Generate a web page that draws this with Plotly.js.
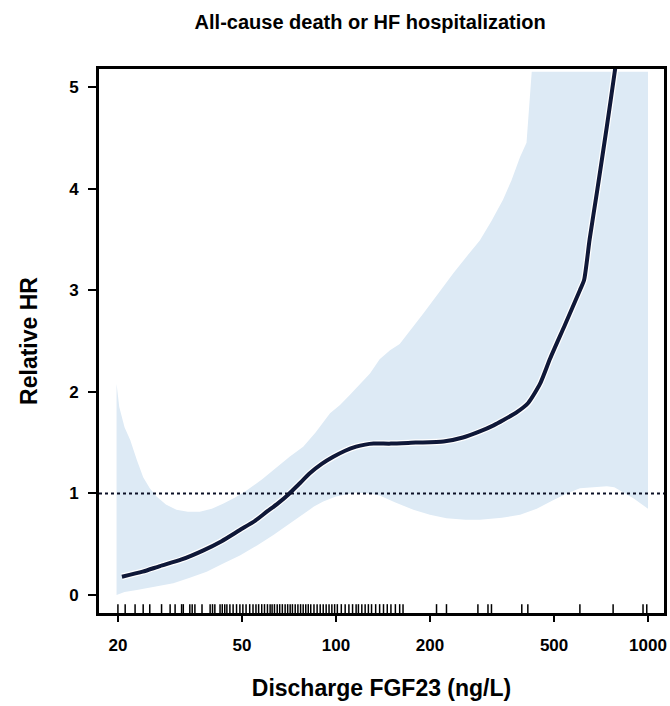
<!DOCTYPE html>
<html>
<head>
<meta charset="utf-8">
<script src="https://cdn.plot.ly/plotly-3.0.1.min.js"></script>
<style>html,body{margin:0;padding:0;background:#fff;}#chart{width:670px;height:706px;}</style>
</head>
<body>
<div id="chart"></div>
<script>
// Estimated spline curve (Discharge FGF23 vs relative HR)
const curveX = [20.6, 24, 27.3, 32, 37.6, 43, 49.2, 55, 60, 65, 70.4, 76, 82.6, 90, 98, 107, 116, 124, 132, 150, 180, 221, 255, 289, 320, 343, 380, 413, 451, 486, 542, 605, 624, 650, 685, 738, 784, 800];
const curveY = [0.18, 0.23, 0.285, 0.35, 0.44, 0.53, 0.64, 0.73, 0.82, 0.90, 0.99, 1.09, 1.20, 1.29, 1.36, 1.42, 1.46, 1.48, 1.49, 1.49, 1.50, 1.51, 1.55, 1.61, 1.67, 1.72, 1.80, 1.89, 2.08, 2.33, 2.66, 3.00, 3.10, 3.50, 3.95, 4.61, 5.17, 5.40];

// 95% confidence band, upper bound
const upperX = [19.8, 20.2, 21, 21.9, 23, 24.1, 25.3, 26.6, 28.5, 30.8, 33.5, 36.6, 40, 43.6, 47.5, 51.8, 58, 64.6, 71, 78.5, 86, 95.7, 103, 110.9, 119, 128.5, 138, 149, 160, 175, 190.5, 213, 238, 262, 289, 315, 343, 365, 389, 408, 415, 424, 500, 700, 1000];
const upperY = [2.08, 1.85, 1.65, 1.525, 1.33, 1.16, 1.05, 0.97, 0.89, 0.84, 0.82, 0.82, 0.85, 0.90, 0.96, 1.03, 1.14, 1.26, 1.36, 1.46, 1.60, 1.79, 1.87, 1.97, 2.07, 2.18, 2.32, 2.41, 2.47, 2.62, 2.77, 2.97, 3.17, 3.33, 3.49, 3.68, 3.89, 4.08, 4.31, 4.45, 4.80, 5.15, 5.15, 5.15, 5.15];

// 95% confidence band, lower bound
const lowerX = [19.8, 21, 23, 26, 30.1, 34, 38.5, 43.5, 49.2, 56, 63, 70, 78.5, 85, 91, 100, 116, 127, 138, 155, 177, 200, 226, 260, 289, 340, 389, 440, 498, 550, 605, 660, 700, 738, 780, 813, 900, 1000];
const lowerY = [0.00, 0.03, 0.05, 0.08, 0.115, 0.17, 0.23, 0.31, 0.39, 0.49, 0.59, 0.69, 0.80, 0.87, 0.92, 0.97, 1.01, 1.00, 0.98, 0.91, 0.84, 0.79, 0.755, 0.74, 0.74, 0.76, 0.79, 0.85, 0.935, 1.00, 1.05, 1.06, 1.065, 1.07, 1.06, 1.03, 0.95, 0.85];

// Rug of observed FGF23 values
const rugVals = [20, 21.1, 22.7, 24.1, 25.3, 27.6, 29.4, 30.5, 32.0, 32.4, 34.0, 34.6, 35.3, 37.2, 39.5, 40.2, 40.9, 42.5, 43.2, 44.0, 44.7, 45.7, 46.8, 48.0, 49.2, 50.3, 51.5, 52.9, 54.2, 55.4, 56.5, 57.8, 59.0, 60.3, 61.5, 62.4, 63.5, 64.8, 66.0, 67.3, 68.7, 70.0, 71.3, 72.5, 74, 75.5, 77, 78.5, 80, 81.5, 83, 85, 87, 89, 91, 93, 95, 97, 99, 101, 104, 107, 110, 113, 116, 118, 121, 124, 127, 130, 134, 138, 142, 146, 150, 155, 160, 164, 210, 226, 285, 307, 315, 394, 412, 605, 773, 964, 991];

const xTicks = [20, 50, 100, 200, 500, 1000];
const xTickText = ['20', '50', '100', '200', '500', '1000'];
const yTicks = [0, 1, 2, 3, 4, 5];
const refHR = 1;

const bandColor = 'rgb(221,234,245)';
const lineColor = '#0f1838';
const font = {family: 'Arial, "Liberation Sans", sans-serif', color: '#000', weight: 'bold'};

const traces = [
  {x: lowerX, y: lowerY, mode: 'lines', line: {width: 0, color: bandColor}, hoverinfo: 'skip', showlegend: false},
  {x: upperX, y: upperY, mode: 'lines', line: {width: 0, color: bandColor}, fill: 'tonexty', fillcolor: bandColor, hoverinfo: 'skip', showlegend: false},
  {x: curveX, y: curveY, mode: 'lines', line: {width: 6.5, color: '#ffffff', shape: 'spline', smoothing: 0.6}, showlegend: false},
  {x: curveX, y: curveY, mode: 'lines', line: {width: 4, color: lineColor, shape: 'spline', smoothing: 0.6}, showlegend: false},
  {x: rugVals, y: rugVals.map(() => -0.145), mode: 'markers', cliponaxis: false,
   marker: {symbol: 'line-ns-open', size: 8, color: '#000', line: {width: 1.5, color: '#000'}}, showlegend: false}
];

const layout = {
  width: 670, height: 706,
  margin: {l: 99, r: 6, t: 69, b: 93},
  paper_bgcolor: '#fff', plot_bgcolor: '#fff',
  title: {text: 'All-cause death or HF hospitalization', x: 0.48, xref: 'paper', y: 0.969, yref: 'container', yanchor: 'middle',
          font: Object.assign({}, font, {size: 20})},
  xaxis: {
    type: 'log', range: [1.2404, 3.0513],
    tickvals: xTicks, ticktext: xTickText,
    ticks: 'outside', ticklen: 6, tickwidth: 2, tickcolor: '#000',
    ticklabelstandoff: 9,
    showline: true, linewidth: 3, linecolor: '#000', mirror: true,
    showgrid: false, zeroline: false,
    tickfont: Object.assign({}, font, {size: 17}),
    title: {text: 'Discharge FGF23 (ng/L)', standoff: 26, font: Object.assign({}, font, {size: 23})}
  },
  yaxis: {
    range: [-0.177, 5.177],
    tickvals: yTicks,
    ticks: 'outside', ticklen: 8, tickwidth: 2, tickcolor: '#000',
    ticklabelstandoff: 6,
    showline: true, linewidth: 3, linecolor: '#000', mirror: true,
    showgrid: false, zeroline: false,
    tickfont: Object.assign({}, font, {size: 17}),
    title: {text: 'Relative HR', standoff: 26, font: Object.assign({}, font, {size: 23})}
  },
  shapes: [
    {type: 'line', xref: 'paper', x0: 0, x1: 1, yref: 'y', y0: refHR, y1: refHR,
     line: {color: '#0a0f25', width: 2, dash: 'dot'}, layer: 'above'}
  ]
};

Plotly.newPlot('chart', traces, layout, {displayModeBar: false, staticPlot: true});
</script>
</body>
</html>
